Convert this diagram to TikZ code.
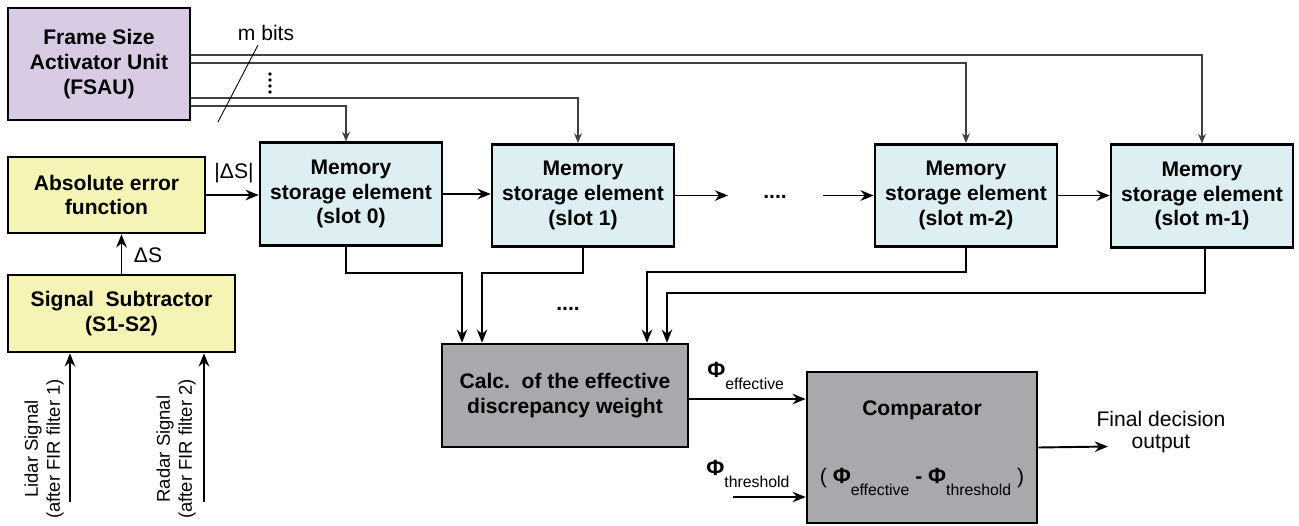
\documentclass[tikz,border=0pt]{standalone}
\usepackage{fontspec}
\setmainfont{Liberation Sans}
\usetikzlibrary{arrows.meta}
\definecolor{fsaupurple}{RGB}{216,204,228}
\definecolor{erryellow}{RGB}{246,244,181}
\definecolor{memcyan}{RGB}{221,239,243}
\definecolor{calcgrey}{RGB}{167,169,172}
\newcommand{\phisub}[1]{{\fontsize{12.5}{12.5}\selectfont\bfseries Φ}\raisebox{-7pt}{\fontsize{9}{9}\selectfont #1}}
\tikzset{%
  blk/.style={draw=black,line width=1.5pt,align=center,inner sep=0,font=\fontsize{12}{14}\selectfont\bfseries},
  fsaubox/.style={blk,fill=fsaupurple,minimum width=3.64cm,minimum height=2.24cm},
  errbox/.style={blk,fill=erryellow},
  membox/.style={blk,fill=memcyan,minimum width=3.64cm,minimum height=2.05cm},
  greybox/.style={blk,fill=calcgrey},
  flow/.style={line width=1.1pt,-{Stealth[length=7.5pt,width=6pt]}},
  sig/.style={line width=0.8pt,-{Stealth[length=7.5pt,width=6pt]}},
  bus/.style={draw=black!75,line width=0.7pt,-{Stealth[length=5.5pt,width=4.5pt]}},
  sidelabel/.style={rotate=90,align=center,font=\fontsize{10.5}{12.5}\selectfont}
}
\begin{document}
\begin{tikzpicture}[x=0.02cm,y=-0.02cm,every node/.style={font=\fontsize{12}{14}\selectfont}]
  \useasboundingbox (0,0) rectangle (1299,525);

  % blocks
  \node[fsaubox] (fsau) at (99,64) {Frame Size\\Activator Unit\\(FSAU)};
  \node[errbox,minimum width=3.94cm,minimum height=1.52cm] (abserr) at (106.5,195) {Absolute error\\function};
  \node[errbox,minimum width=4.54cm,minimum height=1.54cm] (subtr) at (121.5,313.5) {Signal~~Subtractor\\(S1-S2)};
  \node[membox] (mem0) at (351,194) {Memory\\storage element\\(slot 0)};
  \node[membox] (mem1) at (583,195.5) {Memory\\storage element\\(slot 1)};
  \node[membox] (memm2) at (966,195.5) {Memory\\storage element\\(slot m-2)};
  \node[membox] (memm1) at (1202,196) {Memory\\storage element\\(slot m-1)};
  \node[greybox,minimum width=4.92cm,minimum height=2.06cm] (calc) at (565,395.5) {Calc.~~of the effective\\discrepancy weight};
  \node[greybox,minimum width=4.6cm,minimum height=3.02cm] (comp) at (922,447.5) {};
  \node[font=\fontsize{12}{14}\selectfont\bfseries] (comptitle) at ([yshift=0.75cm]comp.center) {Comparator};
  \node[anchor=base,inner sep=0] (compdiff) at ([yshift=-0.71cm]comp.center) {( \phisub{effective} {\bfseries -} \phisub{threshold} )};

  % m bit lines out of the FSAU
  \draw[bus] ([yshift=0.18cm]fsau.east) -| (memm1.north);
  \draw[bus] ([yshift=0.02cm]fsau.east) -| (memm2.north);
  \draw[bus] ([yshift=-0.68cm]fsau.east) -| ([xshift=-0.1cm]mem1.north);
  \draw[bus] ([yshift=-0.84cm]fsau.east) -| ([xshift=-0.1cm]mem0.north);
  \draw[line width=0.5pt] (258,45) -- (218,122);
  \node (mbits) at (266,33) {m bits};
  \foreach \y in {74,80,86,92}
    \fill (270,\y) circle[radius=1.1pt];

  % signal path
  \coordinate (lidar) at (70,502);
  \coordinate (radar) at (204,502);
  \draw[flow] (lidar) -- (lidar |- subtr.south);
  \draw[flow] (radar) -- (radar |- subtr.south);
  \node[sidelabel] (lidarlbl) at (44,449) {Lidar Signal\\(after FIR filter 1)};
  \node[sidelabel] (radarlbl) at (176,449) {Radar Signal\\(after FIR filter 2)};
  \draw[flow] (subtr.north) -- (subtr.north |- abserr.south);
  \node (dslbl) at (148,255) {ΔS};
  \draw[flow] (abserr.east) -- (abserr.east -| mem0.west);
  \node (abslbl) at (234,173) {|ΔS|};

  % memory chain
  \coordinate (gap1) at (728,195.5);
  \coordinate (gap2) at (823,195.5);
  \draw[flow] (mem0.east) -- (mem0.east -| mem1.west);
  \draw[flow] (mem1.east) -- (gap1);
  \node[anchor=base,font=\fontsize{12}{14}\selectfont\bfseries] (gapdots) at (775,198) {....};
  \draw[flow] (gap2) -- (memm2.west);
  \draw[flow] (memm2.east) -- (memm2.east -| memm1.west);

  % slots into the weight calculation
  \draw[flow] ([xshift=-0.1cm]mem0.south) -- ++(0,26) -| ([xshift=-2.06cm]calc.north);
  \draw[flow] (mem1.south) -- ++(0,24.5) -| ([xshift=-1.66cm]calc.north);
  \draw[flow] (memm2.south) -- ++(0,24) -| ([xshift=1.64cm]calc.north);
  \draw[flow] ([xshift=0.06cm]memm1.south) -- ++(0,44) -| ([xshift=2.04cm]calc.north);
  \node[anchor=base,font=\fontsize{12}{14}\selectfont\bfseries] (calcdots) at (568,310) {....};

  % comparator
  \draw[sig] ([yshift=-0.07cm]calc.east) -- ([yshift=-0.07cm]calc.east -| comp.west);
  \node[anchor=base west,inner sep=0] (efflbl) at (707,377) {\phisub{effective}};
  \coordinate (thr) at (733,497);
  \draw[flow] (thr) -- (thr -| comp.west);
  \node[anchor=base west,inner sep=0] (thrlbl) at (706,475) {\phisub{threshold}};
  \coordinate (out) at (1108,446.5);
  \draw[flow] (comp.east) -- (out);
  \node[align=center,font=\fontsize{12}{13}\selectfont] (outlbl) at (1161,432) {Final decision\\output};
\end{tikzpicture}
\end{document}
